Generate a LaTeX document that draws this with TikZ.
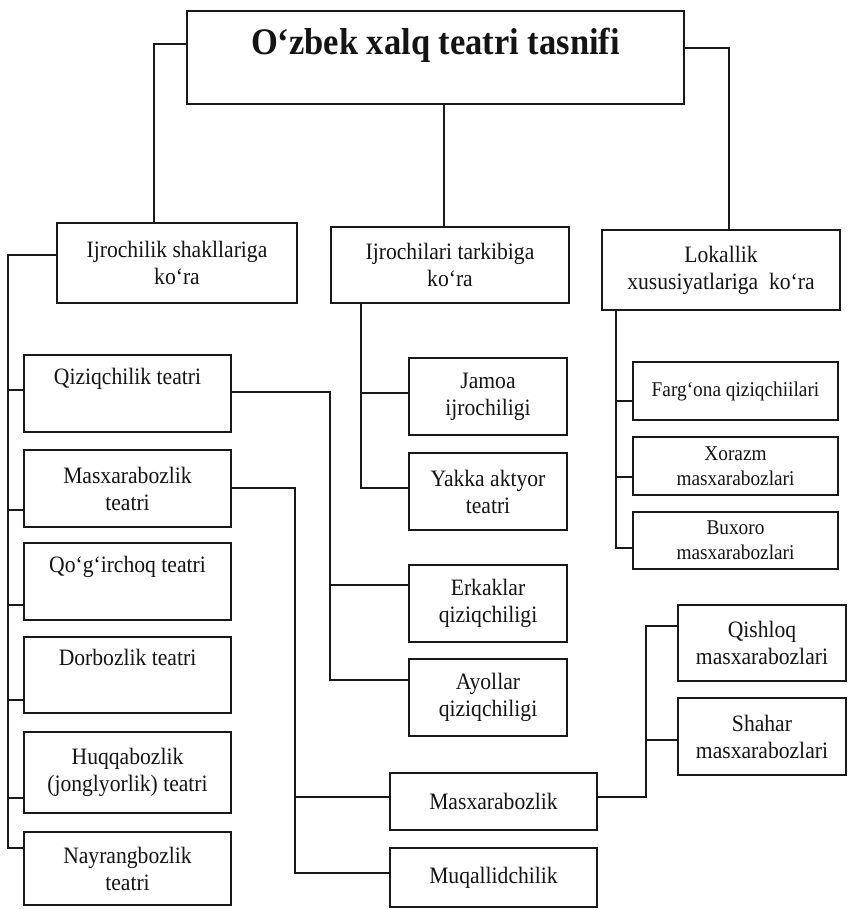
\documentclass[tikz,border=0pt]{standalone}
\usepackage{fontspec}
\setmainfont{Liberation Serif}[FakeStretch=0.92]
\begin{document}
\begin{tikzpicture}[x=1pt,y=-1pt,
  box/.style={draw=black!90, line width=2.2pt, inner sep=0pt, align=center, text=black!92,
    font=\fontsize{23.5}{27}\selectfont},
  smallbox/.style={box, font=\fontsize{21}{25}\selectfont},
  titlebox/.style={box, font=\bfseries\fontsize{37.5}{40}\selectfont},
  link/.style={draw=black!90, line width=2.2pt}]
\useasboundingbox (0,0) rectangle (850,909);
\fill[white] (0,0) rectangle (850,909);
% title and first level
\node[titlebox, minimum width=497, minimum height=93] (title) at (435.5,57.5) {O‘zbek xalq teatri tasnifi\\[-20pt]\strut};
\node[box, minimum width=240, minimum height=80] (A) at (177,263) {Ijrochilik shakllariga\\ko‘ra};
\node[box, minimum width=238, minimum height=76] (B) at (450,265) {Ijrochilari tarkibiga\\ko‘ra};
\node[box, minimum width=238, minimum height=80] (C) at (721,270) {Lokallik\\xususiyatlariga\ \ ko‘ra};
% left column
\node[box, minimum width=207, minimum height=77] (q1) at (127.5,393.5) {Qiziqchilik teatri\\\strut};
\node[box, minimum width=207, minimum height=77] (q2) at (127.5,488.5) {Masxarabozlik\\teatri};
\node[box, minimum width=207, minimum height=77] (q3) at (127.5,581.5) {Qo‘g‘irchoq teatri\\\strut};
\node[box, minimum width=207, minimum height=76] (q4) at (127.5,675) {Dorbozlik teatri\\\strut};
\node[box, minimum width=207, minimum height=81] (q5) at (127.5,772.5) {Huqqabozlik\\(jonglyorlik) teatri};
\node[box, minimum width=207, minimum height=73] (q6) at (127.5,868.5) {Nayrangbozlik\\teatri};
% middle column
\node[box, minimum width=158, minimum height=77] (j1) at (488,396.5) {Jamoa\\ijrochiligi};
\node[box, minimum width=158, minimum height=77] (j2) at (488,491.5) {Yakka aktyor\\teatri};
\node[box, minimum width=158, minimum height=77] (e1) at (488,603.5) {Erkaklar\\qiziqchiligi};
\node[box, minimum width=158, minimum height=77] (e2) at (488,697.5) {Ayollar\\qiziqchiligi};
\node[box, minimum width=207, minimum height=57] (m1) at (493.5,801.5) {Masxarabozlik};
\node[box, minimum width=207, minimum height=59] (m2) at (493.5,877.5) {Muqallidchilik};
% right column
\node[smallbox, minimum width=205, minimum height=58] (f1) at (735.5,391) {Farg‘ona qiziqchiilari};
\node[smallbox, minimum width=205, minimum height=58] (f2) at (735.5,466) {Xorazm\\masxarabozlari};
\node[smallbox, minimum width=205, minimum height=57] (f3) at (735.5,540.5) {Buxoro\\masxarabozlari};
\node[box, minimum width=168, minimum height=76] (s1) at (762,643) {Qishloq\\masxarabozlari};
\node[box, minimum width=168, minimum height=77] (s2) at (762,736.5) {Shahar\\masxarabozlari};
% trunk coordinates
\coordinate (tT1) at (154,0);
\coordinate (tT2) at (729,0);
\coordinate (tMid) at (444,0);
\coordinate (tL) at (8,0);
\coordinate (tB) at (361,0);
\coordinate (tQ) at (330,0);
\coordinate (tM) at (295,0);
\coordinate (tS) at (646,0);
\coordinate (tC) at (616,0);
% connectors from title
\draw[link] (title.west |- 0,44) -| (A.north -| tT1);
\draw[link] (title.east |- 0,48) -| (C.north -| tT2);
\draw[link] (title.south -| tMid) -- (B.north -| tMid);
% left group
\draw[link] (A.west |- 0,255) -| (tL |- 0,848) -- (q6.west |- 0,848);
\foreach \n/\yy in {q1/390,q2/510,q3/605,q4/700,q5/798}
  \draw[link] (tL |- 0,\yy) -- (\n.west |- 0,\yy);
% B group
\draw[link] (B.south -| tB) |- (j2.west |- 0,488);
\draw[link] (tB |- 0,393) -- (j1.west |- 0,393);
% Qiziqchilik group
\draw[link] (q1.east |- 0,392) -| (tQ |- 0,680) -- (e2.west |- 0,680);
\draw[link] (tQ |- 0,585) -- (e1.west |- 0,585);
% Masxarabozlik teatri group
\draw[link] (q2.east |- 0,488) -| (tM |- 0,873) -- (m2.west |- 0,873);
\draw[link] (tM |- 0,797) -- (m1.west |- 0,797);
% Masxarabozlik group
\draw[link] (m1.east |- 0,797) -| (tS |- 0,626) -- (s1.west |- 0,626);
\draw[link] (tS |- 0,740) -- (s2.west |- 0,740);
% C group
\draw[link] (C.south -| tC) |- (f3.west |- 0,548);
\draw[link] (tC |- 0,401) -- (f1.west |- 0,401);
\draw[link] (tC |- 0,477) -- (f2.west |- 0,477);
\end{tikzpicture}
\end{document}
